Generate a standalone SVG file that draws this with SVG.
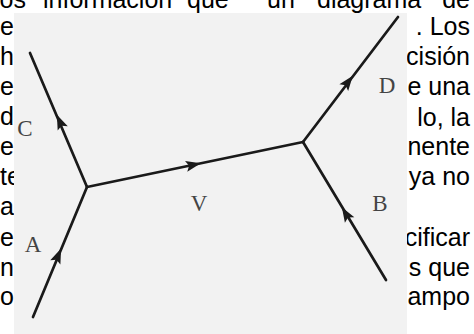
<svg xmlns="http://www.w3.org/2000/svg" xmlns:xlink="http://www.w3.org/1999/xlink" width="474" height="334" viewBox="0 0 474 334">
<style>
.pg{font-family:"Liberation Sans",Arial,sans-serif;font-size:25px;fill:#000}
.r{text-anchor:end}
.lbl{font-family:"Liberation Serif","Times New Roman",serif;font-size:23px;fill:#444;text-anchor:middle}
.ln{stroke:#1a1a1a;stroke-width:2.7;fill:none;stroke-linecap:round;stroke-linejoin:round}
.ah{fill:#1a1a1a}
</style>
<defs>
<path id="ah" d="M8,0 L-7,-5.5 L-4,0 L-7,5.5 Z"/>
</defs>
<rect width="474" height="334" fill="#fff"/>
<g id="page-text">
<text class="pg" y="8"><tspan x="-6">los</tspan><tspan x="43">información</tspan><tspan x="187">que</tspan><tspan x="267">un</tspan><tspan x="317">diagrama</tspan></text>
<text class="pg r" x="470" y="8">de</text>
<text class="pg" x="0" y="35">e</text>
<text class="pg" x="0" y="65">h</text>
<text class="pg" x="0" y="95">e</text>
<text class="pg" x="0" y="125">d</text>
<text class="pg" x="0" y="155">e</text>
<text class="pg" x="0" y="185">te</text>
<text class="pg" x="0" y="215">a</text>
<text class="pg" x="0" y="246">e</text>
<text class="pg" x="0" y="276">n</text>
<text class="pg" x="0" y="305">o</text>
<text class="pg r" x="470" y="35">. Los</text>
<text class="pg r" x="470" y="65">cisión</text>
<text class="pg r" x="470" y="95">e una</text>
<text class="pg r" x="470" y="126">lo, la</text>
<text class="pg r" x="470" y="155">nente</text>
<text class="pg r" x="470" y="185">ya no</text>
<text class="pg r" x="470" y="246">cificar</text>
<text class="pg r" x="470" y="276">s que</text>
<text class="pg r" x="470" y="305">ampo</text>
</g>
<rect id="scan" x="14" y="13" width="393" height="321" fill="#f2f2f2"/>
<g id="connectors">
<path class="ln" d="M30,53 L87,187"/>
<path class="ln" d="M33,317 L87,187"/>
<path class="ln" d="M87,187 L303,142"/>
<path class="ln" d="M303,142 L398,17"/>
<path class="ln" d="M303,142 L386,280"/>
<use xlink:href="#ah" class="ah" transform="translate(60,122) rotate(-113)"/>
<use xlink:href="#ah" class="ah" transform="translate(58,256) rotate(-67.4)"/>
<use xlink:href="#ah" class="ah" transform="translate(193,165) rotate(-11.8)"/>
<use xlink:href="#ah" class="ah" transform="translate(348,82) rotate(-52.8)"/>
<use xlink:href="#ah" class="ah" transform="translate(346,214) rotate(-121.1)"/>
</g>
<g id="label-C"><text class="lbl" x="25" y="136">C</text></g>
<g id="label-A"><text class="lbl" x="33" y="252">A</text></g>
<g id="label-V"><text class="lbl" x="199" y="211">V</text></g>
<g id="label-D"><text class="lbl" x="387" y="93">D</text></g>
<g id="label-B"><text class="lbl" x="380" y="211">B</text></g>
</svg>
